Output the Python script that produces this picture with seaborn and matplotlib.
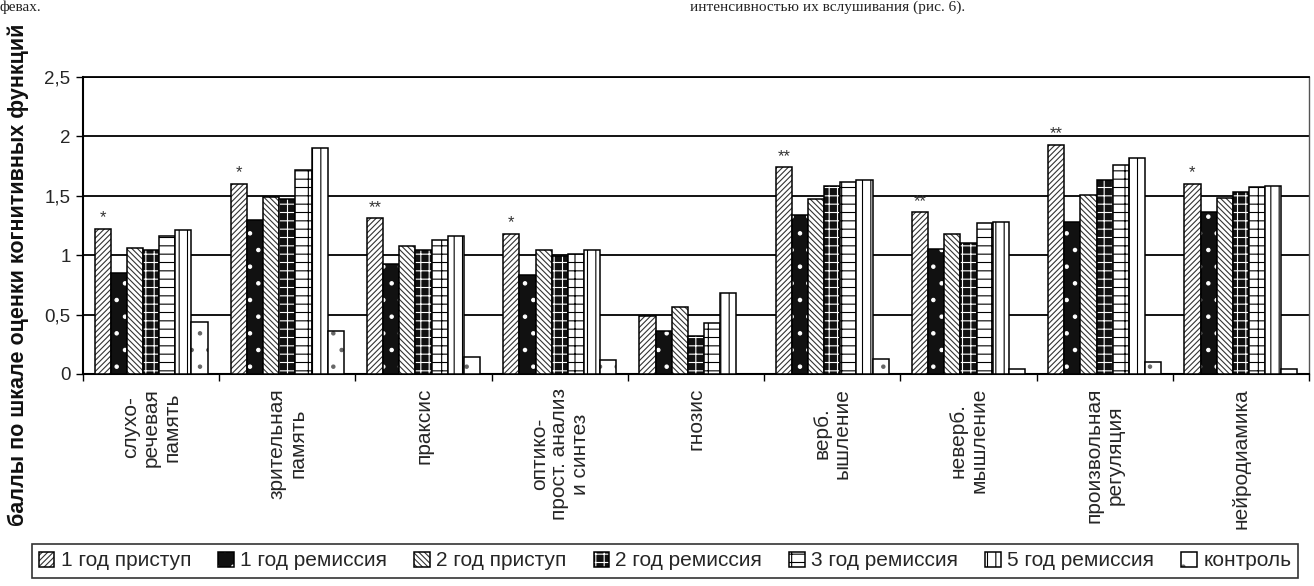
import numpy as np
import pandas as pd
import matplotlib
matplotlib.use("Agg")
import matplotlib.pyplot as plt
import matplotlib.colors as mcolors
import seaborn as sns

# ---------------- data ----------------
categories = [
    "слухо-\nречевая\nпамять",
    "зрительная\nпамять",
    "праксис",
    "оптико-\nпрост. анализ\nи синтез",
    "гнозис",
    "верб.\nышление",
    "неверб.\nмышление",
    "произвольная\nрегуляция",
    "нейродиамика",
]
series = ["1 год приступ", "1 год ремиссия", "2 год приступ", "2 год ремиссия",
          "3 год ремиссия", "5 год ремиссия", "контроль"]

god1_pristup = [1.22, 1.60, 1.31, 1.18, 0.49, 1.74, 1.36, 1.93, 1.60]
god1_remissia = [0.85, 1.30, 0.93, 0.83, 0.36, 1.34, 1.05, 1.28, 1.36]
god2_pristup = [1.06, 1.49, 1.08, 1.04, 0.56, 1.47, 1.18, 1.51, 1.48]
god2_remissia = [1.04, 1.47, 1.04, 0.99, 0.32, 1.58, 1.10, 1.63, 1.53]
god3_remissia = [1.16, 1.72, 1.13, 1.01, 0.43, 1.62, 1.27, 1.76, 1.57]
god5_remissia = [1.21, 1.90, 1.16, 1.04, 0.68, 1.63, 1.28, 1.82, 1.58]
kontrol = [0.44, 0.36, 0.14, 0.12, 0.0, 0.13, 0.04, 0.10, 0.04]

stars = ["*", "*", "**", "*", "", "**", "**", "**", "*"]

ytick_values = [0, 0.5, 1, 1.5, 2, 2.5]
ytick_labels = ["0", "0,5", "1", "1,5", "2", "2,5"]

ylabel = "баллы по шкале оценки когнитивных функций"
page_text_left = "февах."
page_text_right = "интенсивностью их вслушивания (рис. 6)."

values = [god1_pristup, god1_remissia, god2_pristup, god2_remissia,
          god3_remissia, god5_remissia, kontrol]

df = pd.DataFrame({
    "cat": np.repeat([categories], len(series), axis=0).ravel(),
    "series": np.repeat(series, len(categories)),
    "val": np.concatenate(values),
})

# ---------------- style ----------------
sns.set_theme(style="white")
plt.rcParams["font.family"] = ["Liberation Sans", "DejaVu Sans"]
plt.rcParams["hatch.linewidth"] = 0.8

fig = plt.figure(figsize=(13.14, 5.86), dpi=100)
ax = fig.add_axes([83 / 1314, 1 - 374 / 586, (1309 - 83) / 1314, (374 - 77) / 586])

sns.barplot(data=df, x="cat", y="val", hue="series", order=categories,
            hue_order=series, palette=["white"] * len(series), width=0.83,
            edgecolor="black", linewidth=1.1, legend=False, ax=ax, zorder=3)

styles = [
    dict(face="white", hatch="//////", hcol="#333333"),
    dict(face="#111111", hatch=".", hcol="white"),
    dict(face="white", hatch="\\\\\\\\\\\\", hcol="#333333"),
    dict(face="#111111", hatch="++", hcol="white"),
    dict(face="white", hatch="--|", hcol="black"),
    dict(face="white", hatch="||", hcol="black"),
    dict(face="white", hatch=".", hcol="#666666"),
]
for cont, st in zip(ax.containers, styles):
    for p in cont.patches:
        p.set_facecolor(st["face"])
        p.set_edgecolor("black")
        p.set_hatch(st["hatch"])
        p._hatch_color = mcolors.to_rgba(st["hcol"])
        p.stale = True

# stars above first series
for p, s in zip(ax.containers[0].patches, stars):
    if s:
        ax.text(p.get_x() + p.get_width() / 2, p.get_height() + 0.03, s,
                ha="center", va="bottom", fontsize=12, color="#333333", zorder=4)

ax.set_ylim(0, 2.5)
ax.set_xlim(-0.5, len(categories) - 0.5)
ax.set_yticks(ytick_values)
ax.set_yticklabels(ytick_labels, fontsize=13.5)
ax.yaxis.grid(True, color="black", linewidth=1.3, zorder=0)
ax.set_axisbelow(True)

ax.set_xticks(range(len(categories)))
ax.set_xticklabels(categories, rotation=90, fontsize=15, linespacing=1.1,
                   ha="center", va="top", multialignment="center")
ax.set_xticks(np.arange(-0.5, len(categories), 1), minor=True)
ax.tick_params(axis="x", which="major", length=0, pad=10)
ax.tick_params(axis="x", which="minor", length=5, width=1, color="black",
               direction="out", bottom=True)
ax.tick_params(axis="y", length=5, width=1, color="black", direction="out",
               left=True, pad=4)
ax.set_xlabel("")
ax.set_ylabel("")

for side in ["left", "bottom"]:
    ax.spines[side].set_color("black")
    ax.spines[side].set_linewidth(1.5)
ax.spines["right"].set_color("#555555")
ax.spines["right"].set_linewidth(1)
ax.spines["top"].set_color("black")
ax.spines["top"].set_linewidth(1.3)

fig.text(18 / 1314, 1 - 275 / 586, ylabel, rotation=90, ha="center",
         va="center", fontsize=15.5, fontweight="bold", color="#111111")

leg = fig.legend(ax.containers, series, loc="center",
                 bbox_to_anchor=(665 / 1314, 1 - 561 / 586), ncol=7,
                 frameon=True, fancybox=False, edgecolor="black",
                 fontsize=15, handlelength=0.75, handleheight=0.75,
                 handletextpad=0.3, columnspacing=1.3, borderpad=0.35,
                 borderaxespad=0)
leg.get_frame().set_linewidth(1.2)

# fragments of surrounding page text at the very top
fig.text(0.0, 1.0 - 1 / 586, page_text_left, family="Liberation Serif",
         fontsize=11, ha="left", va="top", color="#222222")
fig.text(690 / 1314, 1.0 - 1 / 586, page_text_right,
         family="Liberation Serif", fontsize=11, ha="left", va="top",
         color="#222222")

fig.savefig("out.png", dpi=100)
